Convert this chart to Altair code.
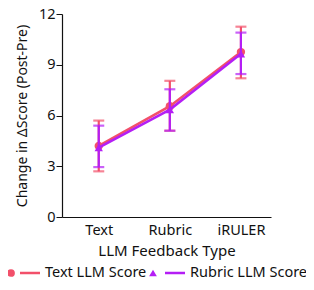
import altair as alt
import pandas as pd

categories = ["Text", "Rubric", "iRULER"]
series_names = ["Text LLM Score", "Rubric LLM Score"]
text_mean = [4.2, 6.55, 9.75]
text_lo = [2.7, 5.1, 8.2]
text_hi = [5.7, 8.05, 11.25]
rubric_mean = [4.1, 6.35, 9.65]
rubric_lo = [2.95, 5.1, 8.45]
rubric_hi = [5.4, 7.55, 10.9]
y_ticks = [0, 3, 6, 9, 12]

RED = "#f2506a"
PURPLE = "#b41ef5"
FONT = "Noto Sans"

rows = []
for name, m, lo, hi in [(series_names[0], text_mean, text_lo, text_hi),
                        (series_names[1], rubric_mean, rubric_lo, rubric_hi)]:
    for c, a, b, d in zip(categories, m, lo, hi):
        rows.append({"cat": c, "series": name, "mean": a, "lo": b, "hi": d})
df = pd.DataFrame(rows)

xenc = alt.X("cat:N", sort=categories,
             scale=alt.Scale(type="point", padding=0.47, align=0.55),
             axis=alt.Axis(title="LLM Feedback Type", labelAngle=0, ticks=False,
                           labelPadding=6, titlePadding=7, titleFontSize=15,
                           labelFontSize=14.5))
yscale = alt.Scale(domain=[0, 12], nice=False)
yaxis = alt.Axis(title="Change in ΔScore (Post-Pre)", values=y_ticks, grid=False,
                 tickSize=6, labelPadding=1, titlePadding=9, titleFontSize=14,
                 labelFontSize=14.5)

layers = []
for name, color, shape in [(series_names[0], RED, "circle"),
                           (series_names[1], PURPLE, "triangle-up")]:
    base = alt.Chart(df).transform_filter(alt.datum.series == name)
    line = base.mark_line(color=color, strokeWidth=2.5).encode(
        x=xenc, y=alt.Y("mean:Q", scale=yscale, axis=yaxis))
    rule = base.mark_rule(color=color, strokeWidth=2.2).encode(
        x=xenc, y=alt.Y("lo:Q", scale=yscale), y2="hi:Q")
    cap_lo = base.mark_tick(color=color, thickness=2.2, size=11).encode(
        x=xenc, y=alt.Y("lo:Q", scale=yscale))
    cap_hi = base.mark_tick(color=color, thickness=2.2, size=11).encode(
        x=xenc, y=alt.Y("hi:Q", scale=yscale))
    pts = base.mark_point(color=color, filled=True, opacity=1, shape=shape, size=70).encode(
        x=xenc, y=alt.Y("mean:Q", scale=yscale))
    layers += [line, rule, cap_lo, cap_hi, pts]

# custom legend below the plot
leg_df = pd.DataFrame({"series": series_names})
leg_y = 259
legend_layers = []
for name, color, shape, x0, lx0 in [(series_names[0], RED, "circle", -51, -42),
                                    (series_names[1], PURPLE, "triangle-up", 91, 103)]:
    b = alt.Chart(leg_df).transform_filter(alt.datum.series == name)
    legend_layers.append(b.mark_point(color=color, filled=True, opacity=1, shape=shape, size=60).encode(
        x=alt.value(x0), y=alt.value(leg_y)))
    legend_layers.append(b.mark_rule(color=color, strokeWidth=2.5).encode(
        x=alt.value(lx0), x2=alt.value(lx0 + 20), y=alt.value(leg_y)))
    legend_layers.append(b.mark_text(align="left", baseline="middle", font=FONT, fontSize=14.5,
                                     color="#111").encode(
        x=alt.value(lx0 + 25), y=alt.value(leg_y), text="series:N"))

chart = alt.layer(*layers, *legend_layers).properties(
    width=209, height=203, background="white",
    autosize=alt.AutoSizeParams(type="none"),
    padding={"left": 54, "top": 6, "right": 35, "bottom": 65}
).configure_view(stroke=None).configure_axis(
    domainColor="#111", tickColor="#111", labelColor="#111", titleColor="#111",
    labelFont=FONT, titleFont=FONT,
    titleFontWeight="normal", domainWidth=1.2
)

chart.save("out.html", embed_options={"renderer": "svg", "actions": False})
